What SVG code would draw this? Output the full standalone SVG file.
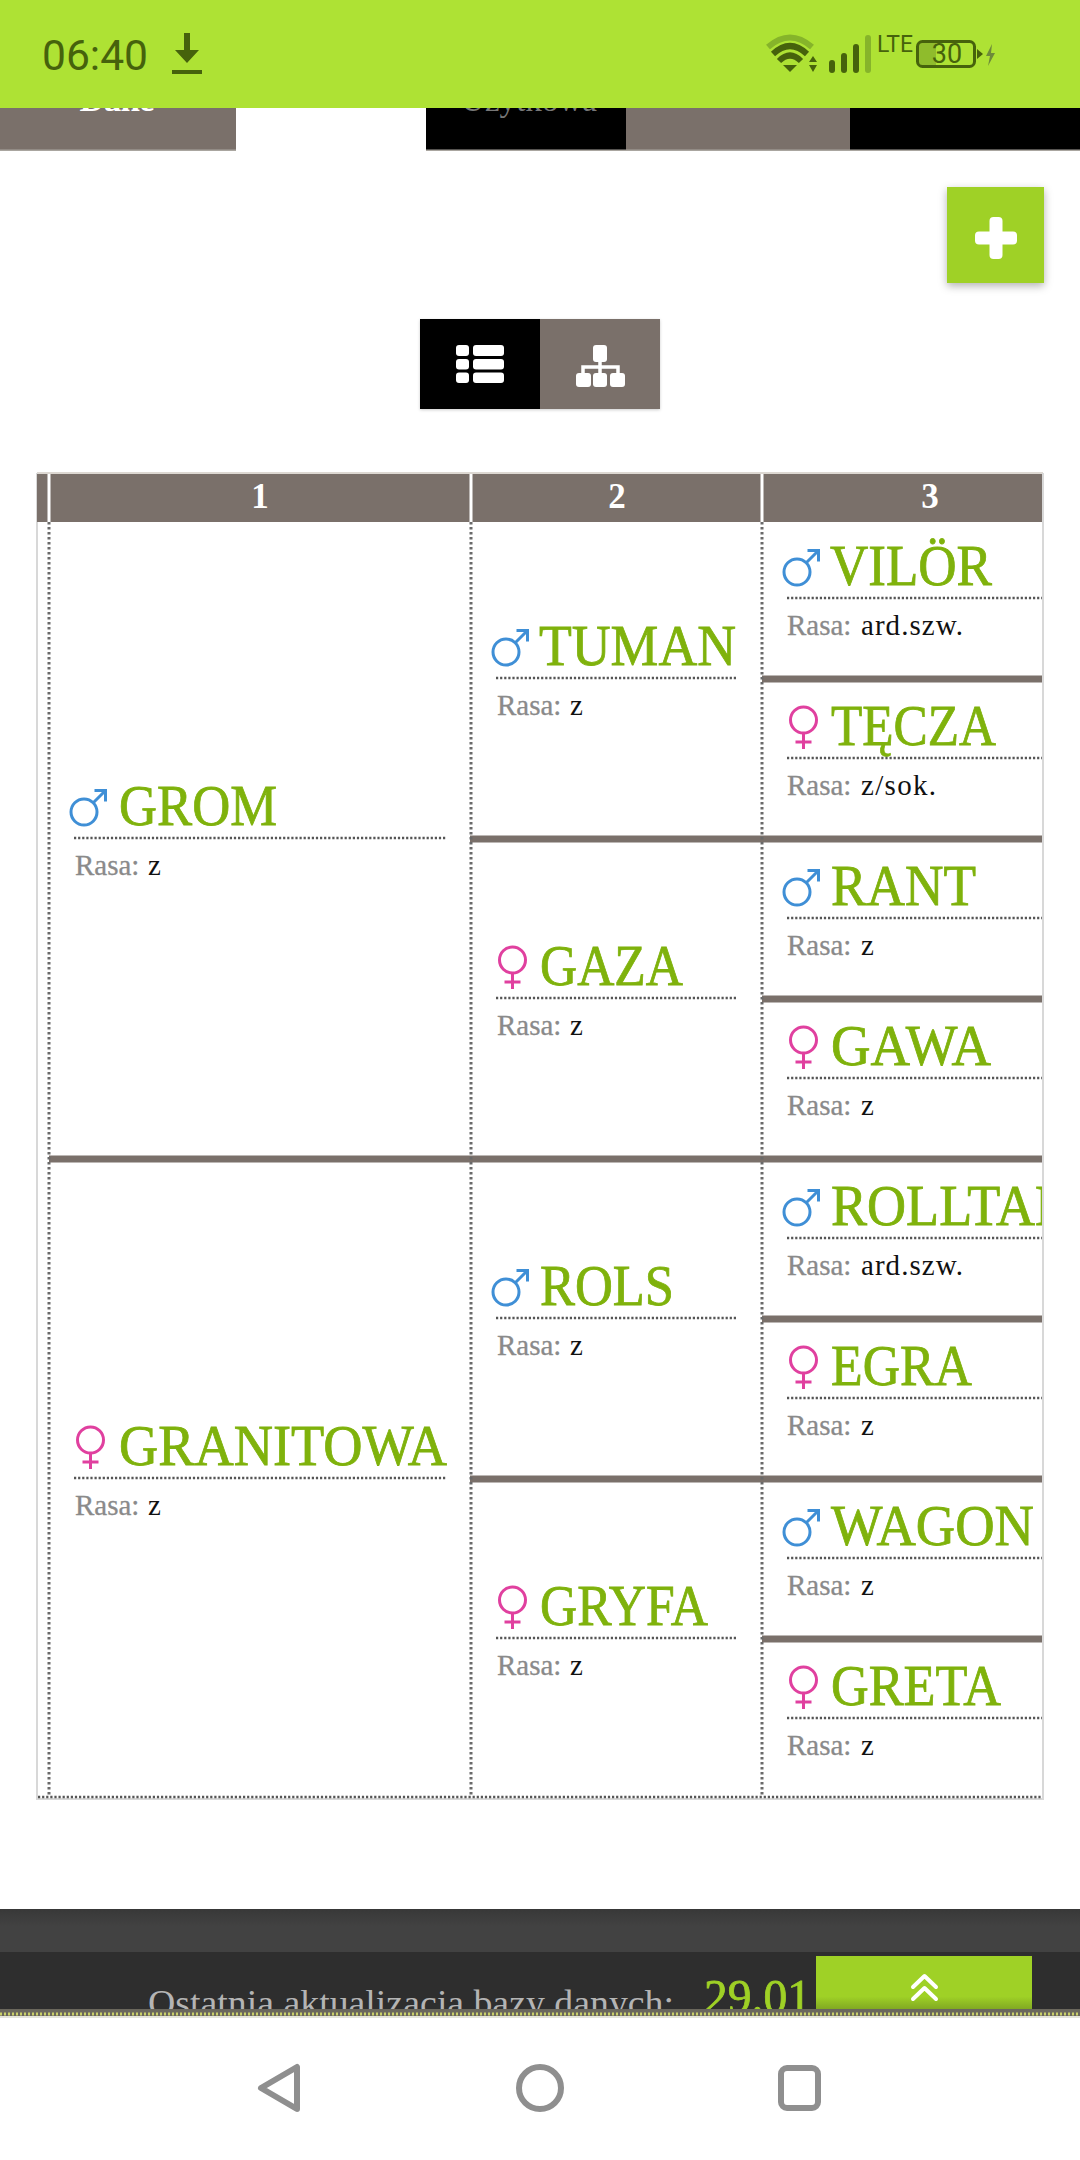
<svg xmlns="http://www.w3.org/2000/svg" width="1080" height="2160" viewBox="0 0 1080 2160">
<style>
text{font-family:"Liberation Serif","DejaVu Serif",serif}
.name{font-size:57px;fill:#7fb20c;stroke:#7fb20c;stroke-width:.8px}
.lab{font-size:29px;fill:#8a8a8a;stroke:#8a8a8a;stroke-width:.3px}
.val{font-size:29px;fill:#111}
.dot{stroke:#555;stroke-width:2.5;stroke-dasharray:2.2 1.9;fill:none}
.vd{stroke:#6a6a6a;stroke-width:3;stroke-dasharray:2.5 2.5;fill:none}
.rule{fill:#7a706a}
.hd{font-size:35px;fill:#fff;text-anchor:middle;font-weight:bold}
.nav{fill:none;stroke:#8f8f8f;stroke-width:6;stroke-linejoin:round}
.st{fill:#46620c}
</style>
<defs>
<g id="male" fill="none" stroke="#3f8fd6" stroke-width="3"><circle r="13"/><path d="M9.500-9.500 21.500-21.500M10.500-21.500H21.500V-10.500"/></g>
<g id="female" fill="none" stroke="#e0409f" stroke-width="3"><circle r="13"/><path d="M0 13V29M-8 22H8"/></g>
<clipPath id="cell"><rect x="762" y="520" width="280" height="1280"/></clipPath>
<clipPath id="foot"><rect x="0" y="1952" width="1080" height="57"/></clipPath>
<linearGradient id="btn" x1="0" y1="0" x2="0" y2="1"><stop offset="0" stop-color="#9fd126"/><stop offset=".75" stop-color="#9fd126"/><stop offset="1" stop-color="#7fa622"/></linearGradient>
<linearGradient id="foot1" x1="0" y1="0" x2="0" y2="1"><stop offset="0" stop-color="#383838"/><stop offset=".4" stop-color="#424242"/><stop offset="1" stop-color="#424242"/></linearGradient>
<filter id="sh" x="-20%" y="-20%" width="140%" height="140%"><feDropShadow dx="0" dy="3" stdDeviation="4" flood-color="#000" flood-opacity=".3"/></filter>
<filter id="sh2" x="-5%" y="-5%" width="110%" height="115%"><feDropShadow dx="0" dy="1" stdDeviation="1.5" flood-color="#000" flood-opacity=".2"/></filter>
</defs>
<rect width="1080" height="2160" fill="#fff"/>

<g id="tabs">
<rect x="0" y="108" width="236" height="43" fill="#aaa6a0"/><rect x="426" y="108" width="654" height="43" fill="#aaa6a0"/>
<rect x="0" y="108" width="236" height="41.5" fill="#7a706a"/>
<rect x="426" y="108" width="200" height="41.5" fill="#000"/>
<rect x="626" y="108" width="224" height="41.5" fill="#7a706a"/>
<rect x="850" y="108" width="230" height="41.5" fill="#000"/>
<text x="117" y="111" font-size="35" font-weight="bold" fill="#fff" text-anchor="middle" textLength="75">Dane</text>
<text x="529" y="111" font-size="33" fill="#777" text-anchor="middle" textLength="136">Użytkowa</text>
</g>

<g id="statusbar">
<rect width="1080" height="108" fill="#aee234"/>
<text x="42" y="70" font-size="43" style="font-family:Roboto,'Liberation Sans',sans-serif" fill="#46620c" textLength="106" lengthAdjust="spacingAndGlyphs">06:40</text>
<path class="st" d="M184 33H190V50H199L187 63 175 50H184ZM172 70H202V74H172Z"/>
<path d="M768 47Q790 28 812 47" fill="none" stroke="#86b42a" stroke-width="6"/>
<path d="M773 54Q790 38 807 54M779 61Q790 50 801 61" fill="none" stroke="#46620c" stroke-width="6"/>
<path class="st" d="M783 65H797L790 72Z"/>
<path class="st" d="M813 56 817 62H809ZM813 72 809 65H817Z"/>
<rect class="st" x="829" y="60" width="6" height="13" rx="3"/>
<rect class="st" x="841" y="53" width="6" height="20" rx="3"/>
<rect class="st" x="853" y="44" width="6" height="29" rx="3"/>
<rect x="865" y="35" width="6" height="38" rx="3" fill="#86b42a"/>
<text x="877" y="52" font-size="24" style="font-family:Roboto,'Liberation Sans',sans-serif" fill="#46620c" textLength="36" lengthAdjust="spacingAndGlyphs">LTE</text>
<rect x="918" y="42" width="18" height="24" fill="#8fbc2c"/>
<rect x="917.500" y="41.500" width="57" height="25" rx="5" fill="none" stroke="#46620c" stroke-width="3"/>
<text x="947" y="63" font-size="27" style="font-family:Roboto,'Liberation Sans',sans-serif" fill="#46620c" text-anchor="middle">30</text>
<path class="st" d="M977 49 983 54 977 59Z"/>
<path d="M992 44 986 56H990L988 66 995 53H991Z" fill="#6d8a3a"/>
</g>

<g id="add-button">
<rect x="947" y="187" width="97" height="96" fill="#9fd126" filter="url(#sh)"/>
<rect x="989.500" y="217" width="13" height="42" rx="4" fill="#fff"/>
<rect x="975" y="231.500" width="42" height="13" rx="4" fill="#fff"/>
</g>

<g id="view-toggle" filter="url(#sh2)">
<rect x="420" y="319" width="120" height="90" fill="#000"/>
<rect x="540" y="319" width="120" height="90" fill="#7a706a"/>
<g fill="#fff">
<rect x="456" y="345" width="13" height="11" rx="3"/><rect x="473" y="345" width="31" height="11" rx="3"/>
<rect x="456" y="359" width="13" height="10.500" rx="3"/><rect x="473" y="359" width="31" height="10.500" rx="3"/>
<rect x="456" y="372.500" width="13" height="10.500" rx="3"/><rect x="473" y="372.500" width="31" height="10.500" rx="3"/>
<rect x="593" y="345" width="14" height="17" rx="3"/>
<rect x="576" y="373" width="15" height="14" rx="3"/><rect x="593" y="373" width="14" height="14" rx="3"/><rect x="610" y="373" width="15" height="14" rx="3"/>
</g>
<path d="M600 362V367M583 374V367H618V374M600 367V374" fill="none" stroke="#fff" stroke-width="3.500"/>
</g>

<g id="table">
<path d="M37 473H1043" stroke="#ddd8d2" stroke-width="2"/>
<path d="M37 473V1799H1043V473" fill="none" stroke="#d8d8d8" stroke-width="2"/>
<rect class="rule" x="37" y="474" width="1005" height="48"/>
<path d="M49 474V522M471 474V522M762 474V522" stroke="#fff" stroke-width="3"/>
<text class="hd" x="260" y="508">1</text>
<text class="hd" x="617" y="508">2</text>
<text class="hd" x="930" y="508">3</text>
</g>

<g id="connectors">
<rect class="rule" x="762" y="675.500" width="280" height="7"/>
<rect class="rule" x="470" y="835.500" width="572" height="7"/>
<rect class="rule" x="762" y="995.500" width="280" height="7"/>
<rect class="rule" x="49" y="1155.500" width="993" height="7"/>
<rect class="rule" x="762" y="1315.500" width="280" height="7"/>
<rect class="rule" x="470" y="1475.500" width="572" height="7"/>
<rect class="rule" x="762" y="1635.500" width="280" height="7"/>
<path class="vd" d="M49 522V1797M471 522V1797M762 522V1797"/>
<path class="dot" d="M38 1797H1042"/>
</g>

<g id="n-grom"><use href="#male" x="84" y="812"/><text class="name" x="119" y="825" textLength="158" lengthAdjust="spacingAndGlyphs">GROM</text><path class="dot" d="M74 838H446"/><text class="lab" x="75" y="875">Rasa:</text><text class="val" x="148" y="875">z</text></g>
<g id="n-granitowa"><use href="#female" x="90.500" y="1440"/><text class="name" x="119" y="1465" textLength="328" lengthAdjust="spacingAndGlyphs">GRANITOWA</text><path class="dot" d="M74 1478H446"/><text class="lab" x="75" y="1515">Rasa:</text><text class="val" x="148" y="1515">z</text></g>

<g id="n-tuman"><use href="#male" x="506" y="652"/><text class="name" x="539" y="665" textLength="197" lengthAdjust="spacingAndGlyphs">TUMAN</text><path class="dot" d="M496 678H737"/><text class="lab" x="497" y="715">Rasa:</text><text class="val" x="570" y="715">z</text></g>
<g id="n-gaza"><use href="#female" x="512.500" y="960"/><text class="name" x="540" y="985" textLength="143" lengthAdjust="spacingAndGlyphs">GAZA</text><path class="dot" d="M496 998H737"/><text class="lab" x="497" y="1035">Rasa:</text><text class="val" x="570" y="1035">z</text></g>
<g id="n-rols"><use href="#male" x="506" y="1292"/><text class="name" x="540" y="1305" textLength="134" lengthAdjust="spacingAndGlyphs">ROLS</text><path class="dot" d="M496 1318H737"/><text class="lab" x="497" y="1355">Rasa:</text><text class="val" x="570" y="1355">z</text></g>
<g id="n-gryfa"><use href="#female" x="512.500" y="1600"/><text class="name" x="540" y="1625" textLength="168" lengthAdjust="spacingAndGlyphs">GRYFA</text><path class="dot" d="M496 1638H737"/><text class="lab" x="497" y="1675">Rasa:</text><text class="val" x="570" y="1675">z</text></g>

<g id="n-vilor"><use href="#male" x="797" y="572"/><text class="name" x="830" y="585" textLength="162" lengthAdjust="spacingAndGlyphs">VILÖR</text><path class="dot" d="M787 598H1042"/><text class="lab" x="787" y="635">Rasa:</text><text class="val" x="861" y="635" textLength="102">ard.szw.</text></g>
<g id="n-tecza"><use href="#female" x="803.500" y="720"/><text class="name" x="831" y="745" textLength="165" lengthAdjust="spacingAndGlyphs">TĘCZA</text><path class="dot" d="M787 758H1042"/><text class="lab" x="787" y="795">Rasa:</text><text class="val" x="861" y="795" textLength="75">z/sok.</text></g>
<g id="n-rant"><use href="#male" x="797" y="892"/><text class="name" x="831" y="905" textLength="145" lengthAdjust="spacingAndGlyphs">RANT</text><path class="dot" d="M787 918H1042"/><text class="lab" x="787" y="955">Rasa:</text><text class="val" x="861" y="955">z</text></g>
<g id="n-gawa"><use href="#female" x="803.500" y="1040"/><text class="name" x="831" y="1065" textLength="160" lengthAdjust="spacingAndGlyphs">GAWA</text><path class="dot" d="M787 1078H1042"/><text class="lab" x="787" y="1115">Rasa:</text><text class="val" x="861" y="1115">z</text></g>
<g id="n-rolltan"><use href="#male" x="797" y="1212"/><text class="name" x="831" y="1225" textLength="243" lengthAdjust="spacingAndGlyphs" clip-path="url(#cell)">ROLLTAN</text><path class="dot" d="M787 1238H1042"/><text class="lab" x="787" y="1275">Rasa:</text><text class="val" x="861" y="1275" textLength="102">ard.szw.</text></g>
<g id="n-egra"><use href="#female" x="803.500" y="1360"/><text class="name" x="831" y="1385" textLength="141" lengthAdjust="spacingAndGlyphs">EGRA</text><path class="dot" d="M787 1398H1042"/><text class="lab" x="787" y="1435">Rasa:</text><text class="val" x="861" y="1435">z</text></g>
<g id="n-wagon"><use href="#male" x="797" y="1532"/><text class="name" x="831" y="1545" textLength="203" lengthAdjust="spacingAndGlyphs">WAGON</text><path class="dot" d="M787 1558H1042"/><text class="lab" x="787" y="1595">Rasa:</text><text class="val" x="861" y="1595">z</text></g>
<g id="n-greta"><use href="#female" x="803.500" y="1680"/><text class="name" x="831" y="1705" textLength="170" lengthAdjust="spacingAndGlyphs">GRETA</text><path class="dot" d="M787 1718H1042"/><text class="lab" x="787" y="1755">Rasa:</text><text class="val" x="861" y="1755">z</text></g>

<g id="footer">
<rect x="0" y="1909" width="1080" height="43" fill="url(#foot1)"/>
<rect x="0" y="1952" width="1080" height="58" fill="#2e2e2e"/>
<g clip-path="url(#foot)">
<text x="148" y="2015" font-size="35" fill="#b4b4b4" textLength="526" lengthAdjust="spacingAndGlyphs">Ostatnia aktualizacja bazy danych:</text>
<text x="704" y="2013" font-size="49" fill="#9fd126" stroke="#9fd126" stroke-width=".8" textLength="107" lengthAdjust="spacingAndGlyphs">29.01</text>
</g>
<rect x="816" y="1956" width="216" height="54" fill="url(#btn)"/>
<path d="M913 1987 924.500 1976 936 1987M913 1999 924.500 1988 936 1999" fill="none" stroke="#fff" stroke-width="4" stroke-linecap="round" stroke-linejoin="round"/>
<rect x="0" y="2009" width="1080" height="7" fill="#6a675c"/>
<path d="M0 2014H1080" stroke="#c9d06a" stroke-width="3" stroke-dasharray="2 2"/>
<rect x="0" y="2016" width="1080" height="2" fill="#e4e4dc"/>
</g>

<g id="navbar">
<path class="nav" d="M297 2067V2109L261 2088Z"/>
<circle class="nav" cx="540" cy="2088" r="21"/>
<rect class="nav" x="781" y="2068" width="37" height="40" rx="6"/>
</g>
</svg>
